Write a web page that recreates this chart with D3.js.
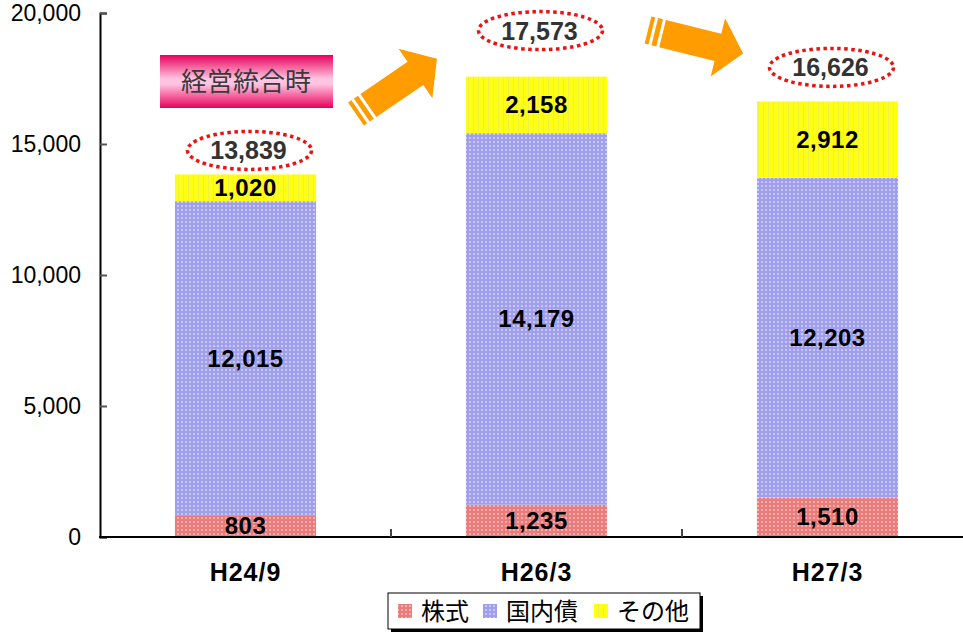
<!DOCTYPE html>
<html>
<head>
<meta charset="utf-8">
<script src="https://cdn.jsdelivr.net/npm/d3@7"></script>
<style>
  html, body { margin: 0; padding: 0; background: #fff; }
  svg { display: block; }
</style>
</head>
<body>
<svg id="chart" width="963" height="635"></svg>
<script>
// Holdings by period (億円)
const periods = ["H24/9", "H26/3", "H27/3"];
const stocks = [803, 1235, 1510];        // 株式
const domesticBonds = [12015, 14179, 12203]; // 国内債
const others = [1020, 2158, 2912];       // その他
const totals = [13839, 17573, 16626];
const seriesNames = ["株式", "国内債", "その他"];
const yTicks = [0, 5000, 10000, 15000, 20000];
const mergerLabel = "経営統合時";

const W = 963, H = 635;
const svg = d3.select("#chart");
const JP = "'Noto Sans CJK JP', 'Noto Sans', sans-serif";
const NUM = "'Liberation Sans', Arial, sans-serif";

const y = d3.scaleLinear().domain([0, 20000]).range([537, 13]);
const x = d3.scaleBand().domain(periods).range([100, 973])
  .paddingInner(0.515).paddingOuter(0.2575);

// ---- fill patterns ----
const defs = svg.append("defs");
function dotPattern(id, base, dot) {
  const p = defs.append("pattern").attr("id", id)
    .attr("patternUnits", "userSpaceOnUse").attr("width", 4).attr("height", 4);
  p.append("rect").attr("width", 4).attr("height", 4).attr("fill", base);
  p.append("rect").attr("x", 1).attr("y", 1).attr("width", 2).attr("height", 2).attr("fill", dot);
}
dotPattern("pat-stock", "#ea7c7c", "#f6b0b0");
dotPattern("pat-bond", "#9f9fee", "#c9c9f8");
const py = defs.append("pattern").attr("id", "pat-other")
  .attr("patternUnits", "userSpaceOnUse").attr("width", 5).attr("height", 6);
py.append("rect").attr("width", 5).attr("height", 6).attr("fill", "#ffff14");
py.append("rect").attr("x", 3).attr("width", 1).attr("height", 6).attr("fill", "#f0f040");

const grad = defs.append("linearGradient").attr("id", "mergerGrad")
  .attr("x1", 0).attr("y1", 0).attr("x2", 0).attr("y2", 1);
grad.append("stop").attr("offset", "0%").attr("stop-color", "#e8005a");
grad.append("stop").attr("offset", "45%").attr("stop-color", "#ffc4e2");
grad.append("stop").attr("offset", "55%").attr("stop-color", "#ffc4e2");
grad.append("stop").attr("offset", "100%").attr("stop-color", "#e8005a");

const fills = ["url(#pat-stock)", "url(#pat-bond)", "url(#pat-other)"];
const legendFills = fills;

// ---- stacked bars ----
const rows = periods.map((p, i) => ({ period: p, s0: stocks[i], s1: domesticBonds[i], s2: others[i] }));
const stack = d3.stack().keys(["s0", "s1", "s2"])(rows);

const gBars = svg.append("g");
stack.forEach((layer, k) => {
  gBars.selectAll(null).data(layer).join("rect")
    .attr("x", d => x(d.data.period))
    .attr("width", x.bandwidth())
    .attr("y", d => y(d[1]))
    .attr("height", d => y(d[0]) - y(d[1]))
    .attr("fill", fills[k]);
  gBars.selectAll(null).data(layer).join("text")
    .attr("x", d => x(d.data.period) + x.bandwidth() / 2)
    .attr("y", d => (y(d[0]) + y(d[1])) / 2 + 8)
    .attr("text-anchor", "middle")
    .attr("font-family", NUM).attr("font-weight", "bold")
    .attr("font-size", 24).attr("letter-spacing", 0.5).attr("fill", "#000")
    .text(d => d3.format(",")(d[1] - d[0]));
});

// ---- axes ----
const yAxis = d3.axisRight(y).tickValues(yTicks).tickSize(7).tickFormat("");
const gy = svg.append("g").attr("transform", "translate(100,0)").call(yAxis);
gy.select(".domain").attr("stroke", "#000").attr("stroke-width", 2);
gy.selectAll(".tick line").attr("stroke", "#555").attr("stroke-width", 2);
svg.append("g").selectAll("text").data(yTicks).join("text")
  .attr("x", 81).attr("y", d => y(d) + 8)
  .attr("text-anchor", "end")
  .attr("font-family", NUM).attr("font-size", 23).attr("fill", "#000")
  .text(d => d3.format(",")(d));

svg.append("line").attr("x1", 99).attr("x2", W).attr("y1", 537).attr("y2", 537)
  .attr("stroke", "#000").attr("stroke-width", 2);
const step = x.step();
svg.append("g").selectAll("line").data(periods.slice(1)).join("line")
  .attr("x1", d => x(d) - x.paddingInner() * step / 2)
  .attr("x2", d => x(d) - x.paddingInner() * step / 2)
  .attr("y1", 529).attr("y2", 537)
  .attr("stroke", "#444").attr("stroke-width", 2);

svg.append("g").selectAll("text").data(periods).join("text")
  .attr("x", d => x(d) + x.bandwidth() / 2)
  .attr("y", 581)
  .attr("text-anchor", "middle")
  .attr("font-family", NUM).attr("font-weight", "bold")
  .attr("font-size", 25).attr("letter-spacing", 1).attr("fill", "#000")
  .text(d => d);

// ---- total callouts (dotted ellipses) ----
const calloutLift = [24, 46, 34];
const gTot = svg.append("g");
periods.forEach((p, i) => {
  const cx = x(p) + x.bandwidth() / 2 + 4;
  const cy = y(totals[i]) - calloutLift[i];
  gTot.append("ellipse").attr("cx", cx).attr("cy", cy).attr("rx", 62).attr("ry", 19)
    .attr("fill", "none").attr("stroke", "#ee1111").attr("stroke-width", 3.5)
    .attr("stroke-dasharray", "3.5 3.5");
  gTot.append("text").attr("x", cx - 1).attr("y", cy + 9)
    .attr("text-anchor", "middle")
    .attr("font-family", NUM).attr("font-weight", "bold")
    .attr("font-size", 25).attr("fill", "#333")
    .text(d3.format(",")(totals[i]));
});

// ---- merger label ----
svg.append("rect").attr("x", 160).attr("y", 55).attr("width", 173).attr("height", 53)
  .attr("fill", "url(#mergerGrad)");
svg.append("text").attr("x", 246).attr("y", 91)
  .attr("text-anchor", "middle").attr("font-family", JP)
  .attr("font-size", 26).attr("fill", "#3a3a3a").text(mergerLabel);

// ---- arrows ----
function arrow(tx, ty, angle) {
  const g = svg.append("g").attr("transform", `translate(${tx},${ty}) rotate(${angle})`);
  const c = "#ff9c00";
  g.append("rect").attr("x", 0).attr("y", -14).attr("width", 4).attr("height", 28).attr("fill", c);
  g.append("rect").attr("x", 7).attr("y", -14).attr("width", 5).attr("height", 28).attr("fill", c);
  g.append("path")
    .attr("d", "M15,-14 L72,-14 L72,-30 L98,0 L72,30 L72,14 L15,14 Z")
    .attr("fill", c);
}
arrow(356, 114, -34.3);
arrow(648, 30, 13.9);

// ---- legend ----
const lg = svg.append("g");
lg.append("rect").attr("x", 391).attr("y", 596).attr("width", 312).attr("height", 36).attr("fill", "#000");
lg.append("rect").attr("x", 388).attr("y", 593).attr("width", 312).attr("height", 36)
  .attr("fill", "#fff").attr("stroke", "#000").attr("stroke-width", 1);
const legX = [398, 483, 594];
seriesNames.forEach((n, i) => {
  lg.append("rect").attr("x", legX[i]).attr("y", 604).attr("width", 14).attr("height", 14)
    .attr("fill", legendFills[i]);
  lg.append("text").attr("x", legX[i] + 23).attr("y", 620)
    .attr("font-family", JP).attr("font-size", 24).attr("fill", "#000").text(n);
});
</script>
</body>
</html>
